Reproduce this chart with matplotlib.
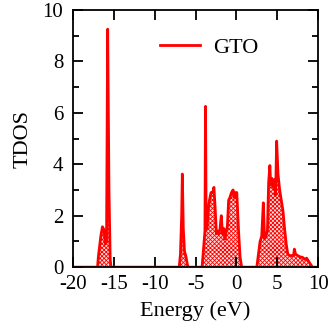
import matplotlib.pyplot as plt
from matplotlib.ticker import MultipleLocator

plt.rcParams['font.family'] = ['Liberation Serif', 'DejaVu Serif']
plt.rcParams['axes.unicode_minus'] = False
plt.rcParams['hatch.linewidth'] = 0.6

# energy (eV) and total DOS
energy = [-20.0, -17.0, -16.9, -16.6, -16.4, -16.2, -16.05, -15.9, -15.76, -15.6, -15.45, -15.35,
          -7.0, -6.85, -6.7, -6.62, -6.5, -6.35, -6.2, -6.0, -5.9,
          -4.2, -4.05, -3.85, -3.78, -3.7, -3.6, -3.45, -3.3, -3.1, -2.9, -2.75, -2.6, -2.45,
          -2.3, -2.15, -2.0, -1.85, -1.7, -1.55, -1.4, -1.25, -1.1, -0.95, -0.8, -0.6, -0.4,
          -0.25, -0.1, 0.05, 0.25, 0.45, 0.65,
          2.5, 2.7, 2.9, 3.1, 3.3, 3.45, 3.6, 3.8, 3.95, 4.1, 4.2, 4.35, 4.5, 4.65, 4.8,
          4.93, 5.1, 5.3, 5.5, 5.7, 5.9, 6.1, 6.3, 6.5, 6.8, 7.0, 7.1, 7.25, 7.5, 7.8, 8.1,
          8.4, 8.6, 8.8, 9.0, 9.3, 10.0]
tdos = [0.0, 0.0, 0.4, 1.2, 1.57, 1.45, 0.9, 1.0, 9.25, 3.0, 0.3, 0.0,
        0.0, 0.5, 2.0, 3.62, 1.5, 0.6, 0.45, 0.1, 0.0,
        0.0, 0.6, 1.4, 6.25, 1.6, 1.5, 2.2, 2.6, 2.9, 2.9, 3.1, 2.3, 1.3,
        1.4, 1.3, 1.5, 2.0, 1.3, 1.5, 1.1, 1.4, 1.6, 2.6, 2.7, 2.9, 3.0,
        2.7, 2.9, 2.9, 1.5, 0.4, 0.0,
        0.0, 0.5, 1.0, 1.2, 2.5, 1.1, 1.2, 1.4, 3.3, 3.95, 3.2, 3.45, 3.1, 3.4, 2.8,
        4.9, 3.6, 3.0, 2.6, 2.2, 1.5, 0.9, 0.5, 0.45, 0.45, 0.45, 0.7, 0.5, 0.45, 0.4, 0.38,
        0.3, 0.35, 0.25, 0.15, 0.0, 0.0]

fig = plt.figure(figsize=(3.32, 3.29), dpi=100)
ax = fig.add_axes([0.22, 0.188, 0.738, 0.782])

ax.fill_between(energy, 0, tdos, facecolor='#ffe0e0', edgecolor='red', hatch='xxxxxxxx', linewidth=0)
ax.plot(energy, tdos, color='red', linewidth=2, label='GTO')

ax.set_xlim(-20, 10)
ax.set_ylim(0, 10)
ax.xaxis.set_major_locator(MultipleLocator(5))
ax.yaxis.set_major_locator(MultipleLocator(2))
ax.yaxis.set_minor_locator(MultipleLocator(1))
ax.tick_params(which='both', direction='in', top=True, right=True, width=1.3, labelsize=15)
ax.tick_params(which='major', length=7)
ax.tick_params(which='minor', length=4)
ax.tick_params(axis='y', pad=7)
ax.tick_params(axis='x', pad=6)
for s in ax.spines.values():
    s.set_linewidth(1.3)

ax.set_xlabel('Energy (eV)', fontsize=16, labelpad=5)
ax.set_ylabel('TDOS', fontsize=16, labelpad=7)
ax.legend(loc='upper right', bbox_to_anchor=(0.84, 0.97), frameon=False, fontsize=16,
          handlelength=1.8, handletextpad=0.6)

fig.savefig('out.png', dpi=100)
